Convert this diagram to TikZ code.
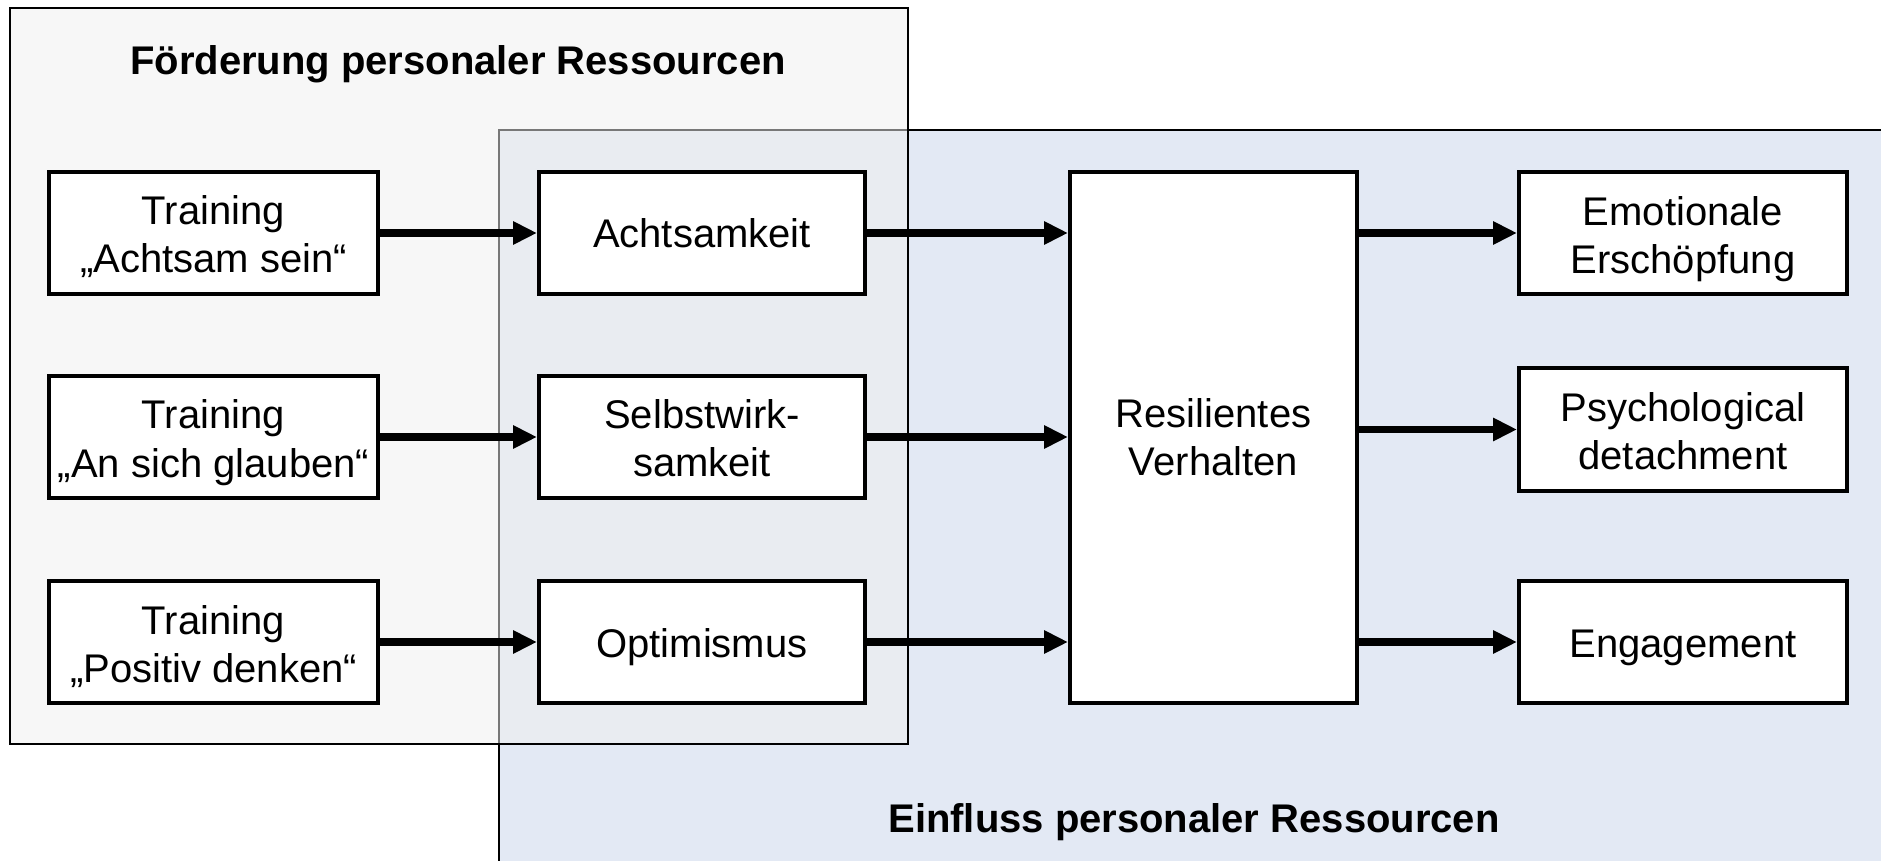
\documentclass[tikz,border=0pt]{standalone}
\usepackage{fontspec}
\setmainfont{Liberation Sans}
\usetikzlibrary{arrows.meta}
\definecolor{einfl}{HTML}{E3E9F4}
\definecolor{foerd}{HTML}{F0F0F0}
\newcommand{\lowtxt}[2]{\raisebox{-#1}[\height][\depth]{\begin{tabular}{@{}c@{}}#2\end{tabular}}}
\tikzset{
  box/.style={draw=black, line width=2pt, fill=white, align=center, inner sep=0pt,
    font=\fontsize{20}{24}\selectfont},
  arr/.style={line width=3.6pt, -{Triangle[length=12pt,width=11pt]}},
  title/.style={font=\fontsize{20}{24}\selectfont\bfseries, inner sep=0pt}
}
\begin{document}
\begin{tikzpicture}[x=0.5pt,y=-0.5pt]
\useasboundingbox (0,0) rectangle (1881,861);
\begin{scope}
\clip (0,0) rectangle (1881,861);
\draw[fill=einfl, line width=1pt] (499,130) rectangle (1920,900);
\end{scope}
\draw[fill=foerd, fill opacity=0.5, line width=1pt] (9.6,8.4) rectangle (908,744);
\node[title] (tf) at (458,64) {Förderung personaler Ressourcen};
\node[title] (te) at (1194,822) {Einfluss personaler Ressourcen};

\node[box, minimum width=164.5pt, minimum height=61pt] (t1) at (213.5,233) {\lowtxt{3.2pt}{Training\\„Achtsam sein“}};
\node[box, minimum width=164.5pt, minimum height=61pt] (t2) at (213.5,437) {\lowtxt{3.2pt}{Training\\„An sich glauben“}};
\node[box, minimum width=164.5pt, minimum height=61pt] (t3) at (213.5,642) {\lowtxt{3.2pt}{Training\\„Positiv denken“}};

\node[box, minimum width=163pt, minimum height=61pt] (m1) at (702,233) {\lowtxt{2.6pt}{Achtsamkeit}};
\node[box, minimum width=163pt, minimum height=61pt] (m2) at (702,437) {\lowtxt{3pt}{Selbstwirk-\\samkeit}};
\node[box, minimum width=163pt, minimum height=61pt] (m3) at (702,642) {\lowtxt{2.8pt}{Optimismus}};

\node[box, minimum width=143.5pt, minimum height=265.5pt] (rv) at (1213.5,437.5) {\lowtxt{2.3pt}{Resilientes\\Verhalten}};

\node[box, minimum width=164pt, minimum height=61pt] (o1) at (1683,233) {\lowtxt{3.5pt}{Emotionale\\Erschöpfung}};
\node[box, minimum width=164pt, minimum height=61pt] (o2) at (1683,429.5) {\lowtxt{3.2pt}{Psychological\\detachment}};
\node[box, minimum width=164pt, minimum height=61pt] (o3) at (1683,642) {\lowtxt{2.8pt}{Engagement}};

\draw[arr] (t1) -- (m1);
\draw[arr] (t2) -- (m2);
\draw[arr] (t3) -- (m3);
\draw[arr] (m1.east) -- (m1.east -| rv.west);
\draw[arr] (m2.east) -- (m2.east -| rv.west);
\draw[arr] (m3.east) -- (m3.east -| rv.west);
\draw[arr] (o1.west -| rv.east) -- (o1.west);
\draw[arr] (o2.west -| rv.east) -- (o2.west);
\draw[arr] (o3.west -| rv.east) -- (o3.west);
\end{tikzpicture}
\end{document}
